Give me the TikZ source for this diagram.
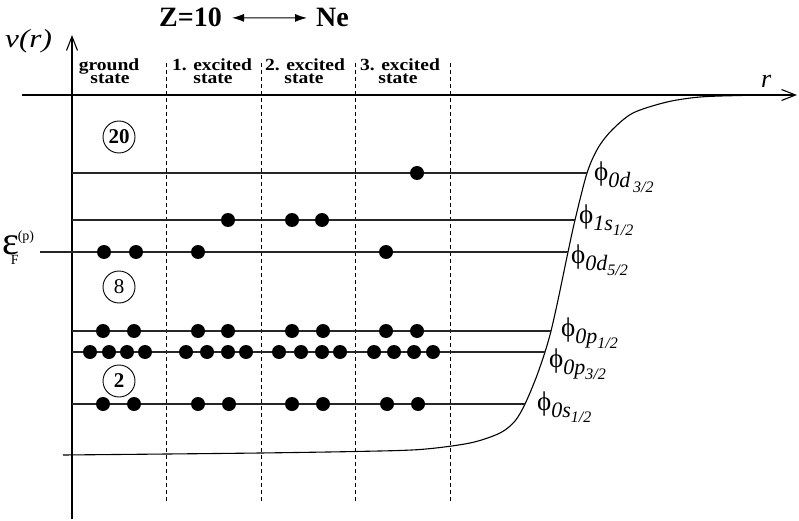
\documentclass[tikz,border=0pt]{standalone}
\usepackage{fontspec}
\setmainfont{Liberation Serif}
\newfontfamily\hdfont[FakeStretch=1.15]{Liberation Serif}
\newfontfamily\wideit[FakeStretch=1.2]{Liberation Serif}
\usetikzlibrary{arrows.meta}

% orbital label: phi with a two-level subscript
\newcommand\orblabel[2]{%
  {\fontsize{27}{27}\selectfont\symbol{"03D5}}%
  \raisebox{-7pt}{\fontsize{22}{22}\selectfont\itshape #1%
    \raisebox{-5pt}{\fontsize{16}{16}\selectfont\itshape #2}}}

\begin{document}
\begin{tikzpicture}[x=1pt,y=-1pt,
  axis/.style={line width=1.2pt},
  level/.style={line width=1.1pt, black!85},
  divider/.style={line width=0.9pt, dash pattern=on 4pt off 3pt},
  potential/.style={line width=1.1pt},
  electron/.style={circle, fill, inner sep=0pt, minimum size=14pt},
  shell/.style={circle, draw, line width=0.9pt, minimum size=32pt, inner sep=0pt,
    font=\fontsize{21}{21}\selectfont},
  orb/.style={anchor=base west, inner sep=0pt},
  header/.style={anchor=base, inner sep=0pt, font=\hdfont\bfseries\fontsize{17}{17}\selectfont},
  barb/.style={-{Straight Barb[length=14pt,width=11pt,line width=1.1pt]}}
]
\useasboundingbox (0,0) rectangle (799,521);

% title
\node[anchor=base east, inner sep=0pt, font=\bfseries\fontsize{28}{28}\selectfont] (zlab) at (222,27) {Z=10};
\node[anchor=base west, inner sep=0pt, font=\bfseries\fontsize{28}{28}\selectfont] (nelab) at (316,27) {Ne};
\draw[{Latex[length=12pt,width=8pt]}-{Latex[length=12pt,width=8pt]}, line width=1pt,
  shorten <=10pt, shorten >=9pt] (zlab.east) -- (nelab.west);

% axes
\coordinate (vbot) at (72,519);
\coordinate (vtop) at (72,35);
\coordinate (hleft) at (22,95);
\coordinate (hright) at (797,95);
\draw[axis, barb] (vbot) -- (vtop);
\draw[axis, barb] (hleft) -- (hright);
\node[anchor=base west, inner sep=0pt, font=\wideit\itshape\fontsize{26}{26}\selectfont] (vlab) at (5,48) {v(r)};
\node[anchor=base west, inner sep=0pt, font=\itshape\fontsize{26}{26}\selectfont] (rlab) at (761,88) {r};

% column dividers
\foreach \x [count=\i] in {166,261,355,450}
  \draw[divider] (\x,63) coordinate (dtop-\i) -- (\x,503) coordinate (dbot-\i);

% column headers
\node[header] (h0a) at (109,71) {ground};
\node[header] (h0b) at (110,84) {state};
\node[header] (h1a) at (212,71) {1. excited};
\node[header] (h1b) at (213,84) {state};
\node[header] (h2a) at (305,71) {2. excited};
\node[header] (h2b) at (304,84) {state};
\node[header] (h3a) at (400,71) {3. excited};
\node[header] (h3b) at (398,84) {state};

% mean-field potential
\draw[potential] plot[smooth, tension=0.5] coordinates {
  (63,455) (167,454) (260,453) (355,451.5) (420,449.5) (470,443) (500,433)
  (515,421) (525,404) (536,378) (545,352) (551,331) (558,300) (568,252)
  (575,220) (587,173) (598,148) (612,130) (633,113) (667,102) (700,97)
  (740,95.5) (770,95)};

% single-particle levels
\coordinate (d32) at (587,173);
\coordinate (s12) at (575,220);
\coordinate (d52) at (568,252);
\coordinate (p12) at (551,331);
\coordinate (p32) at (545,352);
\coordinate (s12b) at (525,404);
\coordinate (fermi) at (40,252);
\draw[level] (72,173) -- (d32);
\draw[level] (72,220) -- (s12);
\draw[level] (fermi) -- (d52);
\draw[level] (72,331) -- (p12);
\draw[level] (72,352) -- (p32);
\draw[level] (72,404) -- (s12b);

% orbital labels
\node[orb] (l-d32) at (594,181) {\orblabel{0d}{\,3/2}};
\node[orb] (l-s12) at (579,223) {\orblabel{1s}{1/2}};
\node[orb] (l-d52) at (571,263) {\orblabel{0d}{5/2}};
\node[orb] (l-p12) at (561,336) {\orblabel{0p}{1/2}};
\node[orb] (l-p32) at (549,367) {\orblabel{0p}{3/2}};
\node[orb] (l-s12b) at (537,410) {\orblabel{0s}{1/2}};

% Fermi energy
\node[anchor=base west, inner sep=0pt] (eF) at (2,254)
  {\fontsize{40}{40}\selectfont\symbol{"03B5}\hspace{-8pt}%
   \raisebox{-10pt}{\fontsize{14}{14}\selectfont F}\hspace{-1pt}%
   \raisebox{14pt}{\fontsize{14}{14}\selectfont (p)}};

% magic numbers
\node[shell, font=\bfseries\fontsize{21}{21}\selectfont] (m20) at (119,137) {20};
\node[shell] (m8) at (119,287) {8};
\node[shell, font=\bfseries\fontsize{21}{21}\selectfont] (m2) at (119,381) {2};

% occupied states
\foreach \x [count=\i] in {417}
  \node[electron] (e-d32-\i) at (\x,173) {};
\foreach \x [count=\i] in {228,292,322}
  \node[electron] (e-s12-\i) at (\x,220) {};
\foreach \x [count=\i] in {104,136,198,386}
  \node[electron] (e-d52-\i) at (\x,252) {};
\foreach \x [count=\i] in {103,134,198,228,292,323,386,417}
  \node[electron] (e-p12-\i) at (\x,331) {};
\foreach \x [count=\i] in {90,109,127,145,186,207,228,246,279,301,322,340,374,394,414,433}
  \node[electron] (e-p32-\i) at (\x,352) {};
\foreach \x [count=\i] in {103,134,198,229,292,323,387,418}
  \node[electron] (e-s12b-\i) at (\x,404) {};
\end{tikzpicture}
\end{document}
